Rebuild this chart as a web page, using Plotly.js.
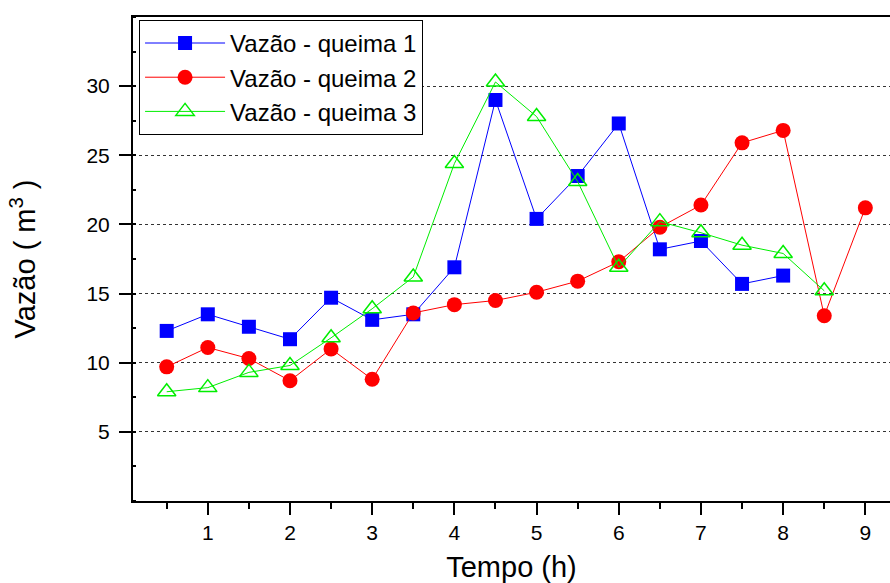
<!DOCTYPE html>
<html>
<head>
<meta charset="utf-8">
<script src="https://cdn.plot.ly/plotly-3.0.1.min.js"></script>
<style>html,body{margin:0;padding:0;background:#fff;}#chart{width:890px;height:583px;}</style>
</head>
<body>
<div id="chart"></div>
<script>
const tempo1 = [0.5,1,1.5,2,2.5,3,3.5,4,4.5,5,5.5,6,6.5,7,7.5,8];
const queima1 = [12.3,13.5,12.6,11.7,14.7,13.1,13.5,16.9,29.0,20.4,23.5,27.3,18.2,18.8,15.7,16.3];
const tempo2 = [0.5,1,1.5,2,2.5,3,3.5,4,4.5,5,5.5,6,6.5,7,7.5,8,8.5,9];
const queima2 = [9.7,11.1,10.3,8.7,11.0,8.8,13.6,14.2,14.5,15.1,15.9,17.3,19.8,21.4,25.9,26.8,13.4,21.2];
const tempo3 = [0.5,1,1.5,2,2.5,3,3.5,4,4.5,5,5.5,6,6.5,7,7.5,8,8.5];
const queima3 = [7.9,8.2,9.3,9.8,11.8,13.9,16.2,24.4,30.3,27.8,23.1,16.9,20.2,19.4,18.5,17.9,15.2];
const yTicks = [5,10,15,20,25,30];
const names = ['Vazão - queima 1','Vazão - queima 2','Vazão - queima 3'];

const traces = [
  {x: tempo1, y: queima1, name: names[0], mode: 'lines+markers', type: 'scatter',
   line: {color: '#0000ff', width: 1}, marker: {symbol: 'square', size: 14, color: '#0000ff'}},
  {x: tempo2, y: queima2, name: names[1], mode: 'lines+markers', type: 'scatter',
   line: {color: '#ff0000', width: 1}, marker: {symbol: 'circle', size: 15, color: '#ff0000'}},
  {x: tempo3, y: queima3, name: names[2], mode: 'lines+markers', type: 'scatter',
   line: {color: '#00ee00', width: 1}, marker: {symbol: 'triangle-up-open', size: 16, color: '#00ee00', line: {width: 1.5, color: '#00ee00'}}}
];

const layout = {
  width: 890, height: 583,
  margin: {l: 133, r: 0, t: 17, b: 82},
  paper_bgcolor: '#fff', plot_bgcolor: '#fff',
  font: {family: 'Arial, Liberation Sans, sans-serif', color: '#000'},
  showlegend: true,
  legend: {x: 0.008, y: 0.994, xanchor: 'left', yanchor: 'top', bordercolor: '#000', borderwidth: 1,
           bgcolor: '#fff', font: {size: 24, color: '#000'}, tracegroupgap: 0, itemwidth: 80},
  xaxis: {
    range: [0.09, 9.3], tickmode: 'linear', tick0: 0, dtick: 1,
    ticks: 'outside', ticklen: 12, tickwidth: 2, tickcolor: '#000',
    showline: true, linecolor: '#000', linewidth: 2, mirror: true,
    showgrid: false, zeroline: false,
    tickfont: {size: 21, color: '#000'},
    minor: {tickmode: 'linear', tick0: 0, dtick: 0.5, ticks: 'outside', ticklen: 6, tickwidth: 2, tickcolor: '#000', showgrid: false},
    title: {text: 'Tempo (h)', font: {size: 29, color: '#000'}, standoff: 14}
  },
  yaxis: {
    range: [0, 35], tickmode: 'array', tickvals: yTicks,
    ticks: 'outside', ticklen: 12, tickwidth: 2, tickcolor: '#000',
    showline: true, linecolor: '#000', linewidth: 2,
    showgrid: true, gridcolor: '#333', griddash: 'dot', gridwidth: 1, zeroline: false,
    tickfont: {size: 21, color: '#000'}, ticklabelstandoff: 5,
    minor: {tickmode: 'linear', tick0: 0, dtick: 2.5, ticks: 'inside', ticklen: 3, tickwidth: 2, tickcolor: '#000', showgrid: false},
    title: {text: 'Vazão ( m<sup>3</sup> )', font: {size: 29, color: '#000'}, standoff: 42}
  }
};

Plotly.newPlot('chart', traces, layout, {displayModeBar: false, staticPlot: true});
</script>
</body>
</html>
